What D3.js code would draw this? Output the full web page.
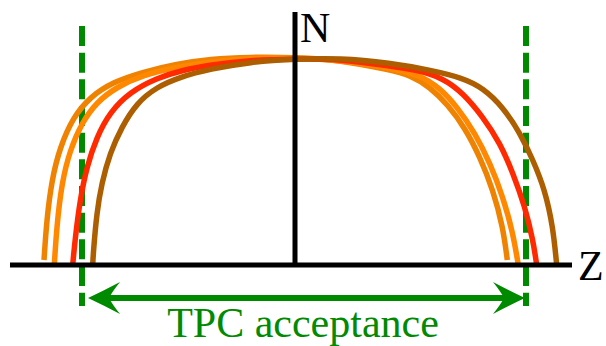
<!DOCTYPE html>
<html><head><meta charset="utf-8">
<script src="https://cdn.jsdelivr.net/npm/d3@7"></script>
<style>body{margin:0;background:#fff}
text{font-family:"Liberation Serif","Times New Roman",Times,serif}</style>
</head><body>
<script>
// Values: z (horizontal), N (vertical), origin at axis crossing
const seriesNames = ["outerOrange", "orange", "red", "brown"];
const seriesColors = ["#ef8200", "#ff8800", "#ff2a00", "#ad5e00"];
const outerOrange = [[-251,5],[-248.3,45],[-243.3,85],[-235,118],[-221.7,148],[-205,168],[-182,183],[-152,193],[-118.3,201],[-85,206],[-45,208],[0,207.5],[45,205],[95,195],[115,190],[135,178],[153,160],[170,137],[185,108],[198,75],[208,38],[212.3,5]];
const orange = [[-240.7,0],[-238.3,38],[-233.3,82],[-225,115],[-213.3,142],[-198.3,163],[-178.3,178],[-152,190],[-118.3,198],[-85,203],[-45,207],[0,207],[45,205],[95,197],[125,190],[145,177],[163,157],[180,132],[195,102],[208,68],[218,32],[223.3,0]];
const red = [[-222.3,0],[-220,25],[-215,65],[-208.3,98],[-198.3,128],[-185,153],[-165,173],[-138.3,187],[-112,195],[-85,200],[-45,205],[0,206],[45,206],[95,199],[122,195],[148,187],[168,172],[188,148],[205,122],[218,92],[230,58],[238,25],[241.7,0]];
const brown = [[-202.3,0],[-201.7,12],[-198.3,52],[-193.3,82],[-185,112],[-173.3,138],[-158.3,162],[-138.3,178],[-115,188],[-85,196],[-45,203],[0,206],[45,207],[95,202],[135,195],[168,187],[188,177],[208,158],[225,132],[238,105],[250,75],[258,38],[261.7,0]];
const seriesData = [outerOrange, orange, red, brown];
const zAxisExtent = [-285, 277];
const nAxisExtent = [0, 253];
const acceptance = [-213, 231];
const arrowEnds = [-207, 230];
const axisLabels = ["N", "Z"];
const acceptanceLabel = "TPC acceptance";

const W = 606, H = 346;
const x = d3.scaleLinear().domain([-300, 300]).range([-5, 595]);
const y = d3.scaleLinear().domain([0, 265]).range([265, 0]);

const svg = d3.select("body").append("svg").attr("width", W).attr("height", H)
  .attr("font-family", "Liberation Serif");
const green = "#008a00";
const fam = '"Liberation Serif", "Times New Roman", Times, serif';

// dashed acceptance lines
svg.selectAll(".acc").data(acceptance).enter().append("line")
  .attr("x1", d => x(d)).attr("x2", d => x(d))
  .attr("y1", y(239)).attr("y2", y(-41))
  .attr("stroke", green).attr("stroke-width", 6)
  .attr("stroke-dasharray", "20,6.67");

// curves
const line = d3.line().x(d => x(d[0])).y(d => y(d[1])).curve(d3.curveBasis);
svg.selectAll(".curve").data(seriesData).enter().append("path")
  .attr("d", line).attr("fill", "none")
  .attr("stroke", (d, i) => seriesColors[i]).attr("stroke-width", 5.5)
  .attr("stroke-linejoin", "round");

// axes
svg.append("line").attr("x1", x(zAxisExtent[0])).attr("x2", x(zAxisExtent[1]))
  .attr("y1", y(0)).attr("y2", y(0)).attr("stroke", "#000").attr("stroke-width", 5);
svg.append("line").attr("x1", x(0)).attr("x2", x(0))
  .attr("y1", y(nAxisExtent[0])).attr("y2", y(nAxisExtent[1])).attr("stroke", "#000").attr("stroke-width", 5);

const labels = [
  {t: axisLabels[0], z: 5, n: 223, c: "#000", a: "start"},
  {t: axisLabels[1], z: 283, n: -15, c: "#000", a: "start"},
  {t: acceptanceLabel, z: 8, n: -72, c: green, a: "middle"}
];
svg.selectAll(".lbl").data(labels).enter().append("text")
  .attr("x", d => x(d.z)).attr("y", d => y(d.n))
  .attr("text-anchor", d => d.a).attr("fill", d => d.c)
  .style("font-family", fam).style("font-size", "42px")
  .text(d => d.t);

// double arrow
const ay = y(-33);
const ax0 = x(arrowEnds[0]), ax1 = x(arrowEnds[1]);
svg.append("line").attr("x1", ax0 + 20).attr("x2", ax1 - 20).attr("y1", ay).attr("y2", ay)
  .attr("stroke", green).attr("stroke-width", 6);
const head = "M0,0 Q15,-7 32,-16 Q24,-6 21,0 Q24,6 32,16 Q15,7 0,0 Z";
svg.append("path").attr("d", head).attr("fill", green).attr("transform", `translate(${ax0},${ay})`);
svg.append("path").attr("d", head).attr("fill", green).attr("transform", `translate(${ax1},${ay}) scale(-1,1)`);
</script>
</body></html>
